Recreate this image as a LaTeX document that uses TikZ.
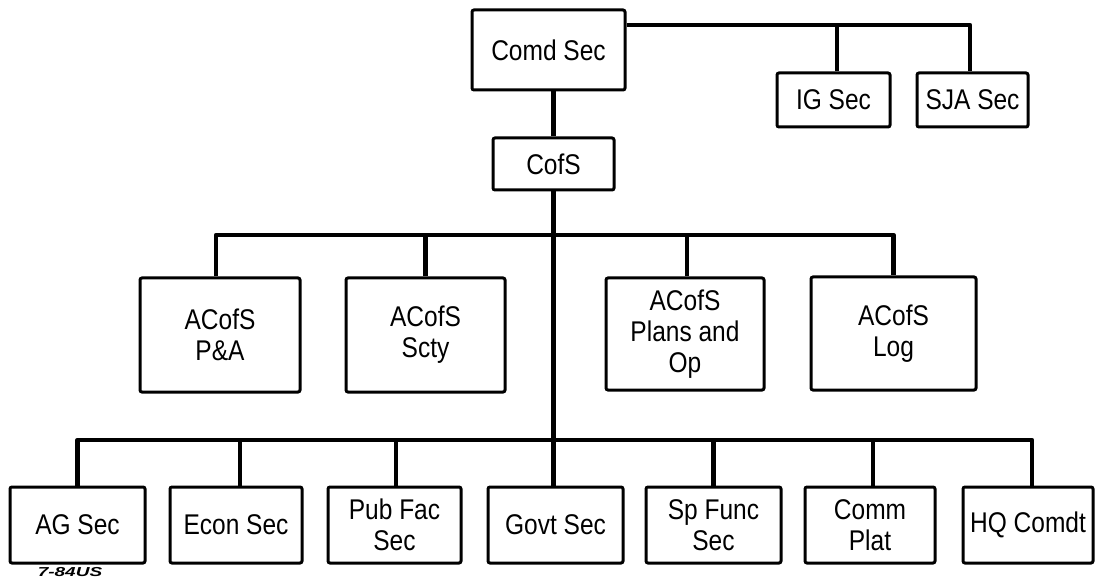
\documentclass[tikz,border=0pt]{standalone}
\usepackage{fontspec}
\setmainfont{Liberation Sans}[FakeStretch=0.86]
\begin{document}
\begin{tikzpicture}[x=1pt,y=-1pt,
  box/.style={draw, line width=3pt, rounded corners=2pt, inner sep=0pt, align=center,
    font=\fontsize{28.5}{31}\selectfont},
  conn/.style={line width=4.5pt, line join=round}]
\useasboundingbox (0,0) rectangle (1095,577);
% top level
\node[box, minimum width=153, minimum height=80] (comd) at (548.5,50) {Comd Sec};
\node[box, minimum width=113, minimum height=54] (ig) at (833.5,100) {IG Sec};
\node[box, minimum width=111, minimum height=54] (sja) at (972.5,100) {SJA Sec};
\node[box, minimum width=121, minimum height=52] (cofs) at (553.5,164) {CofS};
% assistant chiefs
\node[box, minimum width=160, minimum height=114] (pa) at (220,335) {ACofS\\P\&A};
\node[box, minimum width=159, minimum height=114] (scty) at (425.5,335) {ACofS\\Scty};
\node[box, minimum width=158, minimum height=112] (plans) at (685,334) {ACofS\\Plans and\\Op};
\node[box, minimum width=165, minimum height=113] (log) at (893.5,333.5) {ACofS\\Log};
% sections
\node[box, minimum width=135, minimum height=76] (ag) at (77.5,525) {AG Sec};
\node[box, minimum width=132, minimum height=76] (econ) at (236,525) {Econ Sec};
\node[box, minimum width=133, minimum height=76] (pub) at (394.5,525) {Pub Fac\\Sec};
\node[box, minimum width=135, minimum height=76] (govt) at (555.5,525) {Govt Sec};
\node[box, minimum width=135, minimum height=76] (spf) at (713.5,525) {Sp Func\\Sec};
\node[box, minimum width=130, minimum height=76] (comm) at (870,525) {Comm\\Plat};
\node[box, minimum width=130, minimum height=76] (hq) at (1028,525) {HQ Comdt};
% bus coordinates
\coordinate (topbus) at (0,25);
\coordinate (ubus) at (0,235);
\coordinate (lbus) at (0,440);
% connectors: top
\draw[conn] (comd.east |- topbus) -| ([xshift=-2.5pt]sja.north);
\draw[conn] ([xshift=3.5pt]ig.north) -- ([xshift=3.5pt]ig.north |- topbus);
\draw[conn] (cofs.north) -- (cofs.north |- comd.south);
\draw[conn] (cofs.south) -- (cofs.south |- govt.north);
% upper bus
\draw[conn] ([xshift=-4pt]pa.north) |- (log.north |- ubus) -- (log.north);
\draw[conn] (scty.north) -- (scty.north |- ubus);
\draw[conn] ([xshift=2pt]plans.north) -- ([xshift=2pt]plans.north |- ubus);
% lower bus
\draw[conn] (ag.north) |- ([xshift=4pt]hq.north |- lbus) -- ([xshift=4pt]hq.north);
\draw[conn] ([xshift=4pt]econ.north) -- ([xshift=4pt]econ.north |- lbus);
\draw[conn] ([xshift=1.5pt]pub.north) -- ([xshift=1.5pt]pub.north |- lbus);
\draw[conn] (spf.north) -- (spf.north |- lbus);
\draw[conn] ([xshift=3pt]comm.north) -- ([xshift=3pt]comm.north |- lbus);
% figure number
\node[font=\fontsize{13}{13}\selectfont\bfseries\itshape, inner sep=0pt] (fignum) at (70,572) {\scalebox{1.7}[1]{7-84US}};
\end{tikzpicture}
\end{document}
